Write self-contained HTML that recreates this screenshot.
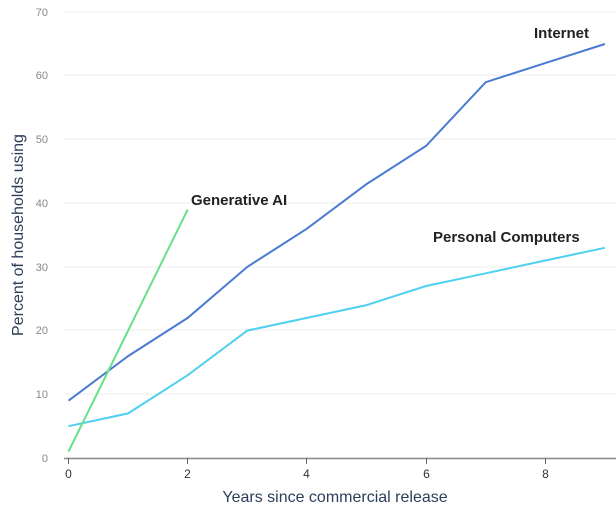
<!DOCTYPE html><html><head><style>body{margin:0;background:#fff}svg{display:block}</style></head><body>
<svg width="616" height="511" xmlns="http://www.w3.org/2000/svg" font-family="Liberation Sans, sans-serif">
<g stroke="#eeeeee" stroke-width="1">
<line x1="64" x2="616" y1="394" y2="394"/><line x1="64" x2="616" y1="330" y2="330"/><line x1="64" x2="616" y1="267" y2="267"/><line x1="64" x2="616" y1="203" y2="203"/><line x1="64" x2="616" y1="139" y2="139"/><line x1="64" x2="616" y1="75" y2="75"/><line x1="64" x2="616" y1="12" y2="12"/>
</g>
<g fill="#888" font-size="11" text-anchor="end">
<text x="48" y="462">0</text><text x="48" y="398">10</text><text x="48" y="334">20</text><text x="48" y="271">30</text><text x="48" y="207">40</text><text x="48" y="143">50</text><text x="48" y="79">60</text><text x="48" y="16">70</text>
</g>
<line x1="64" x2="616" y1="458.5" y2="458.5" stroke="#888" stroke-width="1.5"/>
<g stroke="#666" stroke-width="1"><line x1="68.5" x2="68.5" y1="458" y2="464"/><line x1="187.5" x2="187.5" y1="458" y2="464"/><line x1="306.5" x2="306.5" y1="458" y2="464"/><line x1="426.5" x2="426.5" y1="458" y2="464"/><line x1="545.5" x2="545.5" y1="458" y2="464"/></g>
<g fill="#333" font-size="12" text-anchor="middle">
<text x="68.5" y="478">0</text><text x="187.5" y="478">2</text><text x="306.5" y="478">4</text><text x="426.5" y="478">6</text><text x="545.5" y="478">8</text>
</g>
<text x="335" y="502" font-size="16" fill="#2c3e5a" text-anchor="middle">Years since commercial release</text>
<text transform="translate(23,235) rotate(-90)" font-size="16" fill="#2c3e5a" text-anchor="middle">Percent of households using</text>
<polyline fill="none" stroke="#4a7bd0" stroke-width="2" points="68.5,400.7 128.1,356.1 187.7,317.9 247.3,266.9 306.9,228.7 366.5,184.1 426.1,145.9 485.7,82.2 545.3,63.1 604.9,44"/>
<polyline fill="none" stroke="#4fd0f0" stroke-width="2" points="68.5,426.2 128.1,413.4 187.7,375.2 247.3,330.6 306.9,317.9 366.5,305.1 426.1,286 485.7,273.3 545.3,260.5 604.9,247.8"/>
<polyline fill="none" stroke="#66e08a" stroke-width="2" points="68.5,451.6 187.7,209.6"/>
<g font-size="15" font-weight="bold" fill="#222">
<text x="191" y="205">Generative AI</text><text x="534" y="38">Internet</text><text x="433" y="242">Personal Computers</text>
</g>
</svg></body></html>
